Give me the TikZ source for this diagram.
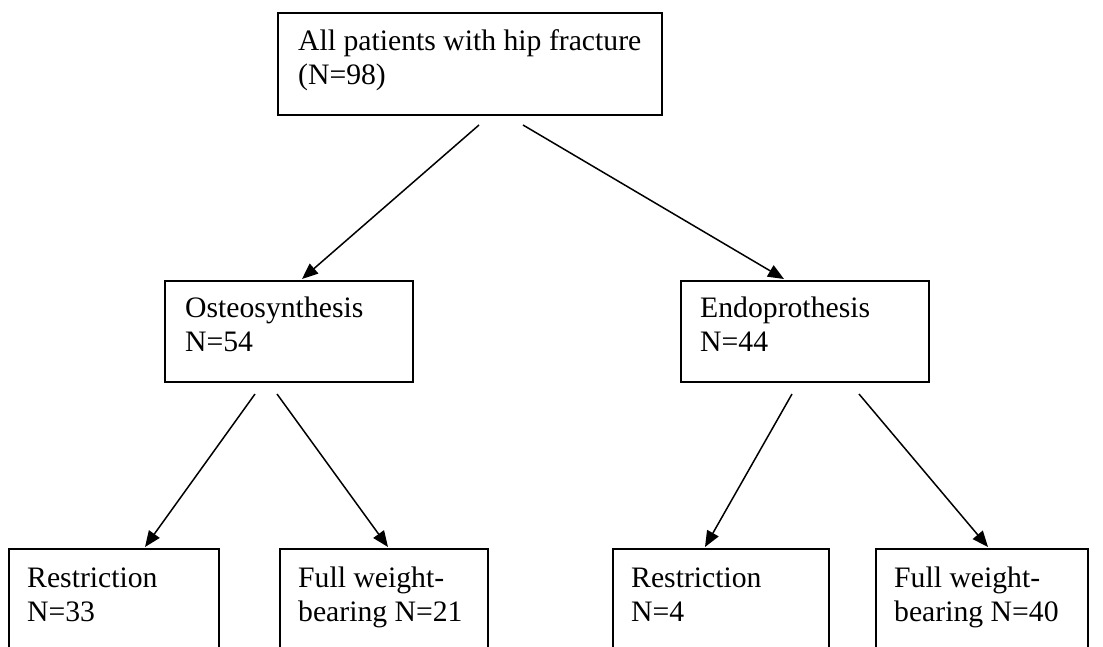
\documentclass[tikz,border=0pt]{standalone}
\usepackage{fontspec}
\setmainfont{Liberation Serif}
\usetikzlibrary{arrows.meta,calc}
\begin{document}
\begin{tikzpicture}[x=1pt,y=1pt,
  box/.style={draw=black, line width=2pt, inner sep=0pt, anchor=north west},
  txt/.style={anchor=north west, inner sep=0pt, align=left,
              font=\fontsize{29.7}{34.5}\selectfont},
  arr/.style={line width=1.5pt, -{Triangle[length=16pt,width=13pt]}}]
\useasboundingbox (0,0) rectangle (1103,-646);
\clip (0,0) rectangle (1103,-646);

% boxes
\node[box, minimum width=384pt, minimum height=102pt] (all)  at (277,-12)  {};
\node[box, minimum width=248pt, minimum height=101pt] (oste) at (164,-280) {};
\node[box, minimum width=248pt, minimum height=101pt] (endo) at (680,-280) {};
\node[box, minimum width=210pt, minimum height=120pt] (ores) at (8,-548)   {};
\node[box, minimum width=208pt, minimum height=120pt] (ofull) at (279,-548) {};
\node[box, minimum width=216pt, minimum height=120pt] (eres) at (612,-548) {};
\node[box, minimum width=212pt, minimum height=120pt] (efull) at (875,-548) {};

% texts
\node[txt] (allt)   at ($(all.north west)+(21,-12)$)   {\rule{0pt}{26pt}All patients with hip fracture\\(N=98)};
\node[txt] (ostet)  at ($(oste.north west)+(21,-11)$)  {\rule{0pt}{26pt}Osteosynthesis\\N=54};
\node[txt] (endot)  at ($(endo.north west)+(20,-11)$)  {\rule{0pt}{26pt}Endoprothesis\\N=44};
\node[txt] (orest)  at ($(ores.north west)+(19,-13)$)  {\rule{0pt}{26pt}Restriction\\N=33};
\node[txt] (ofullt) at ($(ofull.north west)+(19,-13)$) {\rule{0pt}{26pt}Full weight-\\bearing N=21};
\node[txt] (erest)  at ($(eres.north west)+(19,-13)$)  {\rule{0pt}{26pt}Restriction\\N=4};
\node[txt] (efullt) at ($(efull.north west)+(19,-13)$) {\rule{0pt}{26pt}Full weight-\\bearing N=40};

% connectors
\draw[arr] ($(all.south west)+(202,-9)$) -- ($(oste.north west)+(138,1)$);
\draw[arr] ($(all.south west)+(246,-9)$) -- ($(endo.north west)+(104,1)$);
\draw[arr] ($(oste.south west)+(91,-11)$)  -- ($(ores.north west)+(137,1)$);
\draw[arr] ($(oste.south west)+(113,-11)$) -- ($(ofull.north west)+(109,1)$);
\draw[arr] ($(endo.south west)+(112,-11)$) -- ($(eres.north west)+(93,1)$);
\draw[arr] ($(endo.south west)+(179,-11)$) -- ($(efull.north west)+(113,1)$);
\end{tikzpicture}
\end{document}
